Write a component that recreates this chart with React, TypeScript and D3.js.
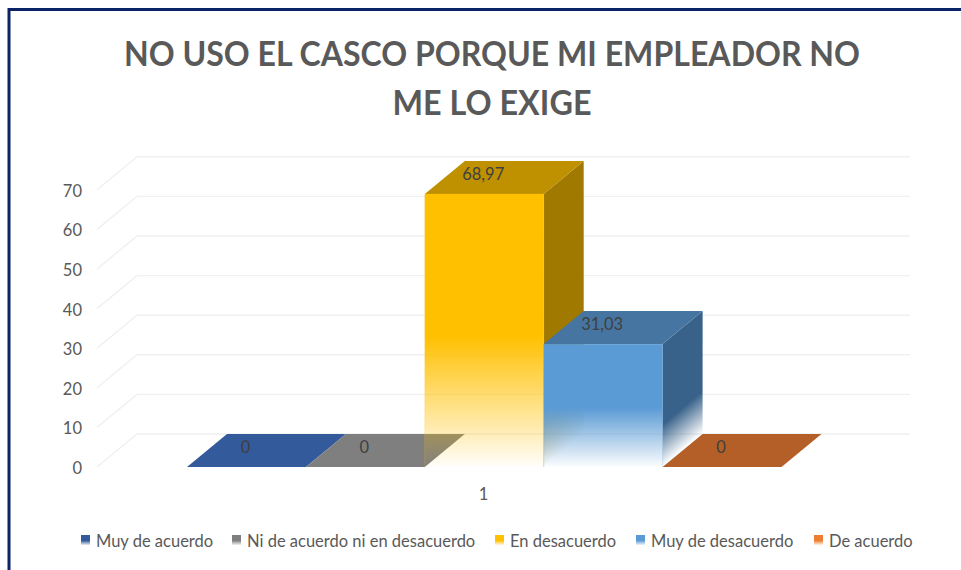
import React from 'react';
import * as d3 from 'd3';

const titleLines = ['NO USO EL CASCO PORQUE MI EMPLEADOR NO', 'ME LO EXIGE'];
const titleWidths = [736, 199];
const categories = ['Muy de acuerdo', 'Ni de acuerdo ni en desacuerdo', 'En desacuerdo', 'Muy de desacuerdo', 'De acuerdo'];
const values = [0, 0, 68.97, 31.03, 0];
const labels = ['0', '0', '68,97', '31,03', '0'];
const frontColors = ['#335a9a', '#7f7f7f', '#ffc000', '#5b9bd5', '#ed7d31'];
const topColors = ['#335a9a', '#7f7f7f', '#bf9000', '#4675a1', '#b35f27'];
const sideColors = ['#264473', '#5f5f5f', '#a07900', '#38628a', '#9a5020'];
const sideFade = [1, 1, 2.2, 1, 1];
const yTicks = [0, 10, 20, 30, 40, 50, 60, 70];
const legendX = [81, 232, 495, 636, 814];
const FONT = 'Lato, Carlito, "Open Sans", sans-serif';

const y = d3.scaleLinear().domain([0, 70]).range([467, 189.8]);
const x = d3.scaleBand<number>().domain(d3.range(5)).range([187, 781.5]).padding(0);
const dx = 40;
const dy = -33;
const backRight = 910;
const quad = (pts: [number, number][]) => d3.line()(pts) + 'Z';

export default function App() {
  const bw = x.bandwidth();
  return (
    <svg width={961} height={570} style={{ position: 'absolute', left: 0, top: 0, background: '#fff' }} fontFamily={FONT}>
      <defs>
        {frontColors.map((c, i) => (
          <linearGradient key={i} id={`front${i}`} x1="0" y1="0" x2="0" y2="1" gradientUnits="objectBoundingBox">
            <stop offset={0.52} stopColor={c} />
            <stop offset={1} stopColor={c} stopOpacity={0.02} />
          </linearGradient>
        ))}
        {sideColors.map((c, i) => {
          const ex = x(i)! + bw;
          const ey = y(0);
          return (
            <linearGradient key={i} id={`side${i}`} gradientUnits="userSpaceOnUse"
              x1={ex - 21 * sideFade[i]} y1={ey - 25 * sideFade[i]} x2={ex} y2={ey}>
              <stop offset={0} stopColor={c} />
              <stop offset={1} stopColor={c} stopOpacity={0} />
            </linearGradient>
          );
        })}
        {frontColors.map((c, i) => (
          <linearGradient key={i} id={`leg${i}`} x1="0" y1="0" x2="0" y2="1">
            <stop offset={0.55} stopColor={c} />
            <stop offset={1} stopColor={c} stopOpacity={0.1} />
          </linearGradient>
        ))}
      </defs>

      {/* frame */}
      <path d="M9 570V9.5H961" fill="none" stroke="#0b2468" strokeWidth={3} />

      {/* title */}
      {titleLines.map((t, i) => (
        <text key={i} x={492} y={65.5 + i * 49} textAnchor="middle" fontSize={35} fontWeight={700} fill="#595959"
          textLength={titleWidths[i]} lengthAdjust="spacingAndGlyphs">{t}</text>
      ))}

      {/* gridlines: side wall and back wall */}
      {yTicks.map(t => (
        <path key={t} d={`M${97} ${y(t)}L${97 + dx} ${y(t) + dy}H${backRight}`} fill="none" stroke="#f0f0f0" strokeWidth={1.4} />
      ))}

      {/* axis labels */}
      {yTicks.map(t => (
        <text key={t} x={82} y={y(t) + 7} textAnchor="end" fontSize={16.5} fill="#595959">{t}</text>
      ))}
      <text x={483.5} y={500} textAnchor="middle" fontSize={16.5} fill="#595959">1</text>

      {/* bars */}
      {values.map((v, i) => {
        const x0 = x(i)!;
        const y0 = y(0);
        const yt = y(v);
        const top = quad([[x0, yt], [x0 + dx, yt + dy], [x0 + bw + dx, yt + dy], [x0 + bw, yt]]);
        if (v === 0) return <path key={i} d={top} fill={topColors[i]} />;
        const side = quad([[x0 + bw, yt], [x0 + bw + dx, yt + dy], [x0 + bw + dx, y0 + dy], [x0 + bw, y0]]);
        return (
          <g key={i}>
            <path d={side} fill={`url(#side${i})`} />
            <path d={top} fill={topColors[i]} />
            <rect x={x0} y={yt} width={bw} height={y0 - yt} fill={`url(#front${i})`} />
            <path d={`M${x0} ${yt}V${y0}M${x0 + bw} ${yt}V${y0}`} stroke={frontColors[i]} strokeOpacity={0.22} fill="none" />
          </g>
        );
      })}

      {/* data labels */}
      {values.map((v, i) => (
        <text key={i} x={x(i)! + bw / 2 - 1} y={y(v) - 14} textAnchor="middle" fontSize={16.5} fill="#404040">{labels[i]}</text>
      ))}

      {/* legend */}
      {categories.map((c, i) => (
        <g key={c}>
          <rect x={legendX[i]} y={535} width={9} height={10} fill={`url(#leg${i})`} />
          <text x={legendX[i] + 15} y={546.5} fontSize={16.5} fill="#595959">{c}</text>
        </g>
      ))}
    </svg>
  );
}
